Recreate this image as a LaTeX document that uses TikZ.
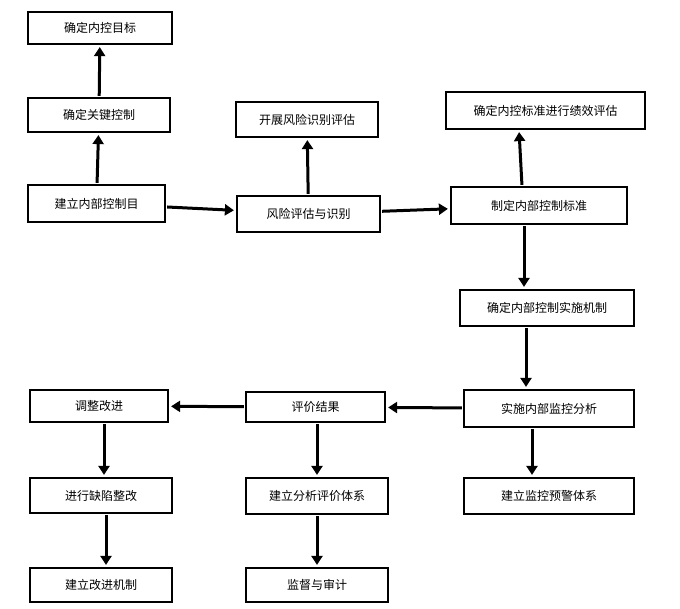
\documentclass[tikz,border=0pt]{standalone}
\usepackage{fontspec}
\newfontfamily\cjk{Noto Sans CJK SC}
\usetikzlibrary{arrows.meta}
\begin{document}
\begin{tikzpicture}[x=1pt,y=-1pt,
  box/.style={draw,line width=2.2pt,minimum height=32pt,inner sep=0pt,font=\cjk\fontsize{12}{14}\selectfont},
  ar/.style={line width=3pt,-{Triangle[length=9pt,width=11pt]},shorten >=2pt,shorten <=1pt}]
\useasboundingbox (0,0) rectangle (680,609);
\fill[white] (0,0) rectangle (680,609);
\node[box,minimum width=144pt] (a1) at (100,28) {确定内控目标};
\node[box,minimum width=142pt,minimum height=34pt] (a2) at (99,115) {确定关键控制};
\node[box,minimum width=137pt,minimum height=37pt] (a3) at (96.5,203.5) {建立内部控制目};
\node[box,minimum width=142pt,minimum height=35pt] (b1) at (307,119.5) {开展风险识别评估};
\node[box,minimum width=143pt,minimum height=36pt] (b2) at (308.5,214) {风险评估与识别};
\node[box,minimum width=199pt,minimum height=37pt] (c1) at (545.5,110.5) {确定内控标准进行绩效评估};
\node[box,minimum width=176pt,minimum height=37pt] (c2) at (539,205.5) {制定内部控制标准};
\node[box,minimum width=174pt,minimum height=36pt] (c3) at (547,308) {确定内部控制实施机制};
\node[box,minimum width=170pt,minimum height=37pt] (c4) at (549,408.5) {实施内部监控分析};
\node[box,minimum width=139pt,minimum height=30pt] (b3) at (315.5,407) {评价结果};
\node[box,minimum width=138pt,minimum height=32pt] (a4) at (99,406) {调整改进};
\node[box,minimum width=142pt,minimum height=35pt] (a5) at (101,495.5) {进行缺陷整改};
\node[box,minimum width=142pt,minimum height=36pt] (b4) at (317,496) {建立分析评价体系};
\node[box,minimum width=170pt,minimum height=36pt] (c5) at (549,496) {建立监控预警体系};
\node[box,minimum width=142pt,minimum height=34pt] (a6) at (101,585) {建立改进机制};
\node[box,minimum width=142pt,minimum height=34pt] (b5) at (317,585) {监督与审计};
\draw[ar] (a2) -- (a1);
\draw[ar] (a3) -- (a2);
\draw[ar] (a3) -- (b2);
\draw[ar] (b2) -- (b1);
\draw[ar] (b2) -- (c2);
\draw[ar] (c2.north -| 522,0) -- (c1.south -| 519,0);
\draw[ar] (c2.south -| 524,0) -- (c3.north -| 524,0);
\draw[ar] (c3.south -| 526,0) -- (c4.north -| 526,0);
\draw[ar] (c4) -- (b3);
\draw[ar] (b3) -- (a4);
\draw[ar] (a4.south -| 104,0) -- (a5.north -| 104,0);
\draw[ar] (a5.south -| 106,0) -- (a6.north -| 106,0);
\draw[ar] (b3.south -| 317,0) -- (b4.north -| 317,0);
\draw[ar] (b4) -- (b5);
\draw[ar] (c4.south -| 532,0) -- (c5.north -| 532,0);
\end{tikzpicture}
\end{document}
